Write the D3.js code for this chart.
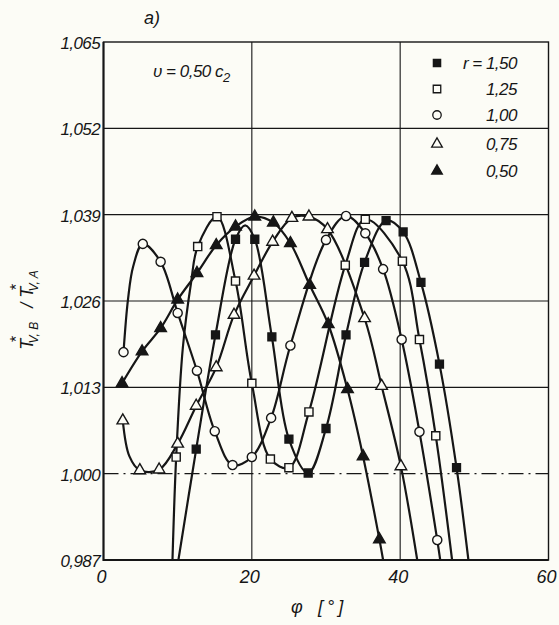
<!DOCTYPE html>
<html><head><meta charset="utf-8">
<script src="https://cdn.jsdelivr.net/npm/d3@7"></script>
<style>
html,body{margin:0;padding:0;background:#fcfcf6;}
svg{display:block;}
text{font-family:'Liberation Sans',Arial,sans-serif;font-style:italic;fill:#161616;}
</style></head><body>
<svg id="chart" width="559" height="625"></svg>
<script>
// axis ticks and labels
const xTicks = [0, 20, 40, 60];
const xTickLabels = ["0", "20", "40", "60"];
const yTicks = [0.987, 1.000, 1.013, 1.026, 1.039, 1.052, 1.065];
const yTickLabels = ["0,987", "1,000", "1,013", "1,026", "1,039", "1,052", "1,065"];
const legendLabels = ["r = 1,50", "1,25", "1,00", "0,75", "0,50"];

// r = 1,50 (filled squares)
const phiR150 = [12.5, 15.1, 17.8, 20.4, 22.7, 25.0, 27.6, 30.0, 32.7, 35.2, 38.1, 40.4, 42.8, 45.3, 47.6];
const valR150 = [1.0037, 1.0209, 1.0353, 1.0353, 1.0206, 1.0052, 1.0001, 1.0068, 1.0209, 1.0318, 1.0381, 1.0364, 1.0288, 1.0165, 1.0009];
const lineR150 = [[10.1, 0.987], [19.1, 1.0374], [49.2, 0.987]];

// r = 1,25 (open squares)
const phiR125 = [9.8, 12.7, 15.3, 17.8, 20.0, 22.5, 25.0, 27.7, 32.6, 35.3, 40.3, 42.6, 44.8];
const valR125 = [1.0025, 1.0342, 1.0387, 1.0290, 1.0136, 1.0022, 1.0009, 1.0093, 1.0314, 1.0383, 1.0320, 1.0202, 1.0057];
const lineR125 = [[9.3, 0.987], [10.7, 1.0190], [11.8, 1.0287], [47.0, 0.987]];

// r = 1,00 (open circles)
const phiR100 = [2.7, 5.3, 7.7, 10.0, 12.6, 15.0, 17.4, 20.0, 22.6, 25.2, 30.0, 32.7, 35.3, 37.7, 40.2, 42.6, 45.0];
const valR100 = [1.0183, 1.0346, 1.0319, 1.0242, 1.0155, 1.0064, 1.0013, 1.0025, 1.0084, 1.0193, 1.0352, 1.0388, 1.0362, 1.0308, 1.0202, 1.0063, 0.9900];
const lineR100 = [[3.3, 1.0262], [4.0, 1.0312], [45.4, 0.987]];

// r = 0,75 (open triangles)
const phiR075 = [2.6, 4.9, 7.5, 10.0, 12.5, 15.2, 17.6, 20.3, 22.8, 25.4, 27.7, 30.2, 35.2, 37.5, 40.1];
const valR075 = [1.0080, 1.0005, 1.0006, 1.0045, 1.0102, 1.0160, 1.0239, 1.0298, 1.0349, 1.0385, 1.0387, 1.0368, 1.0234, 1.0132, 1.0011];
const lineR075 = [[3.5, 1.0026], [42.3, 0.987]];

// r = 0,50 (filled triangles)
const phiR050 = [2.5, 5.2, 7.7, 10.0, 12.6, 15.2, 17.8, 20.4, 22.9, 25.2, 27.8, 30.3, 32.9, 35.0, 37.2];
const valR050 = [1.0136, 1.0184, 1.0219, 1.0262, 1.0302, 1.0344, 1.0372, 1.0387, 1.0378, 1.0347, 1.0284, 1.0225, 1.0127, 1.0026, 0.9901];
const lineR050 = [[37.7, 0.987]];

const ink = "#161616";
const paper = "#fcfcf6";

const series = [
  { phi: phiR150, val: valR150, extra: lineR150, symbol: d3.symbolSquare, size: 62, filled: true },
  { phi: phiR125, val: valR125, extra: lineR125, symbol: d3.symbolSquare, size: 66, filled: false },
  { phi: phiR100, val: valR100, extra: lineR100, symbol: d3.symbolCircle, size: 66, filled: false },
  { phi: phiR075, val: valR075, extra: lineR075, symbol: d3.symbolTriangle, size: 58, filled: false },
  { phi: phiR050, val: valR050, extra: lineR050, symbol: d3.symbolTriangle, size: 58, filled: true }
];

const svg = d3.select("#chart");
svg.append("rect").attr("width", 559).attr("height", 625).attr("fill", paper);

const x = d3.scaleLinear().domain([0, 60]).range([103.5, 548.5]);
const y = d3.scaleLinear().domain([0.987, 1.065]).range([560, 42]);

// grid
const grid = svg.append("g");
grid.selectAll("line.v").data([20, 40]).join("line")
  .attr("x1", d => x(d)).attr("x2", d => x(d)).attr("y1", y(1.065)).attr("y2", y(0.987))
  .attr("stroke", ink).attr("stroke-width", 1.1);
grid.selectAll("line.h").data([1.013, 1.026, 1.039, 1.052]).join("line")
  .attr("x1", x(0)).attr("x2", x(60)).attr("y1", d => y(d)).attr("y2", d => y(d))
  .attr("stroke", ink).attr("stroke-width", 1.1);
grid.append("line")
  .attr("x1", x(0)).attr("x2", x(60)).attr("y1", y(1.000)).attr("y2", y(1.000))
  .attr("stroke", ink).attr("stroke-width", 1.1).attr("stroke-dasharray", "15,5,2,5");

// frame
svg.append("rect").attr("x", x(0)).attr("y", y(1.065))
  .attr("width", x(60) - x(0)).attr("height", y(0.987) - y(1.065))
  .attr("fill", "none").attr("stroke", ink).attr("stroke-width", 1.4);
svg.append("path")
  .attr("d", `M${x(0)},${y(1.065)}V${y(0.987)}H${x(60)}`)
  .attr("fill", "none").attr("stroke", ink).attr("stroke-width", 2);

// tick labels
svg.append("g").selectAll("text").data(yTicks).join("text")
  .attr("x", 100).attr("y", d => y(d) + 7)
  .attr("text-anchor", "end").style("font-size", "17px").style("letter-spacing", "-0.6px")
  .text((d, i) => yTickLabels[i]);
svg.append("g").selectAll("text").data(xTicks).join("text")
  .attr("x", d => x(d) - 2).attr("y", 583)
  .attr("text-anchor", "middle").style("font-size", "18px")
  .text((d, i) => xTickLabels[i]);

// curves
svg.append("clipPath").attr("id", "plotclip").append("rect")
  .attr("x", x(0)).attr("y", y(1.065)).attr("width", x(60) - x(0)).attr("height", y(0.987) - y(1.065));
const line = d3.line().x(d => x(d[0])).y(d => y(d[1])).curve(d3.curveCatmullRom.alpha(0.5));
const curves = svg.append("g").attr("clip-path", "url(#plotclip)");
series.forEach(s => {
  const pts = s.phi.map((p, i) => [p, s.val[i]]).concat(s.extra).sort((a, b) => a[0] - b[0]);
  curves.append("path").attr("d", line(pts))
    .attr("fill", "none").attr("stroke", ink).attr("stroke-width", 2.2);
});

// markers
series.forEach(s => {
  svg.append("g").selectAll("path").data(s.phi.map((p, i) => [p, s.val[i]])).join("path")
    .attr("transform", d => `translate(${x(d[0])},${y(d[1])})`)
    .attr("d", d3.symbol().type(s.symbol).size(s.size))
    .attr("fill", s.filled ? ink : paper).attr("stroke", ink).attr("stroke-width", 1.4);
});

// legend
const legY = [63, 89, 115, 144, 171];
const leg = svg.append("g");
series.forEach((s, i) => {
  leg.append("path").attr("transform", `translate(437,${legY[i]})`)
    .attr("d", d3.symbol().type(s.symbol).size(s.size * 0.85))
    .attr("fill", s.filled ? ink : paper).attr("stroke", ink).attr("stroke-width", 1.3);
  leg.append("text").attr("x", 517).attr("y", legY[i] + 6)
    .attr("text-anchor", "end").style("font-size", "17px").style("letter-spacing", "-0.5px")
    .text(legendLabels[i]);
});

// annotations
svg.append("text").attr("x", 152).attr("y", 24).attr("text-anchor", "middle")
  .style("font-size", "18px").text("a)");
const ann = svg.append("text").attr("x", 153).attr("y", 77).style("font-size", "17px").style("letter-spacing", "-0.5px");
ann.append("tspan").text("υ = 0,50 c");
ann.append("tspan").attr("dy", 5).style("font-size", "13px").text("2");

// axis titles
const xt = svg.append("text").attr("y", 613).style("font-size", "18px");
xt.append("tspan").attr("x", 291).text("φ");
xt.append("tspan").attr("x", 318).style("letter-spacing", "4px").text("[°]");

const yt = svg.append("text").attr("transform", "translate(33,310) rotate(-90)")
  .attr("text-anchor", "middle").style("font-size", "18px");
yt.append("tspan").text("T");
yt.append("tspan").attr("dx", -4).attr("dy", -11).style("font-size", "16px").text("*");
yt.append("tspan").attr("dx", -7).attr("dy", 16).style("font-size", "12px").text("V, B");
yt.append("tspan").attr("dx", 14).attr("dy", -5).text("/ T");
yt.append("tspan").attr("dx", -4).attr("dy", -11).style("font-size", "16px").text("*");
yt.append("tspan").attr("dx", -7).attr("dy", 16).style("font-size", "12px").text("V, A");
</script>
</body></html>
